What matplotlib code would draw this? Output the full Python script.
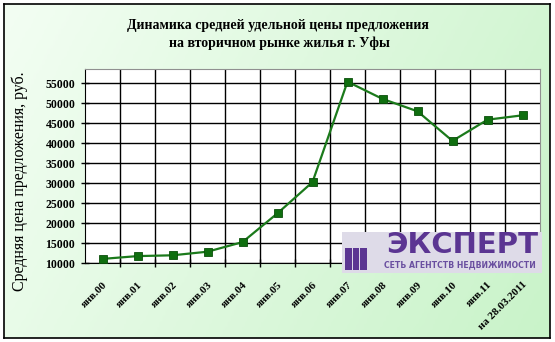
import numpy as np
import matplotlib
matplotlib.use('Agg')
import matplotlib.pyplot as plt
from matplotlib.patches import Rectangle
from matplotlib.colors import LinearSegmentedColormap

periods = ['янв.00', 'янв.01', 'янв.02', 'янв.03', 'янв.04', 'янв.05', 'янв.06',
           'янв.07', 'янв.08', 'янв.09', 'янв.10', 'янв.11', 'на 28.03.2011']
price = [11100, 11800, 12000, 12900, 15300, 22500, 30300,
         55400, 51100, 48000, 40600, 45900, 47000]
yticks = [10000, 15000, 20000, 25000, 30000, 35000, 40000, 45000, 50000, 55000]

plt.rcParams['font.family'] = ['Liberation Serif', 'DejaVu Serif']

W, H = 555, 342
fig = plt.figure(figsize=(W/100, H/100), dpi=100)

# background box with green gradient
bg = fig.add_axes([4/W, 1-338/H, 546/W, 334/H])
xx, yy = np.meshgrid(np.linspace(0, 1, 200), np.linspace(0, 1, 120))
grad = 0.75*xx + 0.25*yy
cmap = LinearSegmentedColormap.from_list('g', ['#f3fef3', '#c9f3c9'])
bg.imshow(grad, cmap=cmap, aspect='auto', extent=[0, 1, 0, 1], origin='upper')
bg.set_xticks([]); bg.set_yticks([])
for s in bg.spines.values():
    s.set_color('black'); s.set_linewidth(1.2)

ax = fig.add_axes([85/W, 1-263.3/H, 455/W, 194/H])
ax.set_facecolor('white')
x = np.arange(len(periods))
ax.plot(x, price, color='#1b7a1b', lw=1.6, marker='s', ms=5.5,
        mfc='#0f6e0f', mec='#0a4f0a', mew=0.6, zorder=3)

ax.set_xlim(-0.5, len(periods)-0.5)
ax.set_ylim(10000, 58500)
ax.set_yticks(yticks)
ax.set_yticklabels([str(v) for v in yticks], fontsize=8.5, fontweight='bold')
ax.set_xticks(x)
ax.set_xticklabels(periods, rotation=45, ha='right', va='top', rotation_mode='anchor',
                   fontsize=8, fontweight='bold')
ax.set_xticks(np.arange(0.5, len(periods)-0.5, 1), minor=True)
ax.tick_params(axis='x', which='major', length=0, pad=12)
ax.tick_params(axis='x', which='minor', direction='inout', length=6, width=1)
ax.tick_params(axis='y', direction='inout', length=6, width=1, pad=4)
ax.grid(True, axis='y', which='major', color='black', lw=1)
ax.grid(True, axis='x', which='minor', color='black', lw=1)
ax.spines['left'].set_color('black')
ax.spines['bottom'].set_color('black')
ax.spines['top'].set_color('#909090')
ax.spines['right'].set_color('#909090')

fig.text(278/W, 1-25/H, 'Динамика средней удельной цены предложения',
         ha='center', va='center', fontsize=10, fontweight='bold')
fig.text(279/W, 1-43/H, 'на вторичном рынке жилья г. Уфы',
         ha='center', va='center', fontsize=10, fontweight='bold')
fig.text(20/W, 1-181/H, 'Средняя цена предложения, руб.', rotation=90,
         ha='center', va='center', fontsize=11.5)

# logo
purple = '#5b3592'
fig.patches.append(Rectangle((342/W, 1-273/H), 200/W, 41/H, transform=fig.transFigure,
                             facecolor='#dedbe8', edgecolor='none', zorder=5))
for i in range(3):
    fig.patches.append(Rectangle(((345+7.5*i)/W, 1-270/H), 6.5/W, 22/H,
                                 transform=fig.transFigure, facecolor=purple,
                                 edgecolor='none', zorder=6))
fig.text(462/W, 1-245/H, 'ЭКСПЕРТ', ha='center', va='center', fontsize=21,
         fontweight='heavy', color=purple, family=['DejaVu Sans'], zorder=7)
fig.text(460/W, 1-265/H, 'СЕТЬ АГЕНТСТВ НЕДВИЖИМОСТИ', ha='center', va='center',
         fontsize=5.6, fontweight='bold', color='#6a4fa0', family=['DejaVu Sans'], zorder=7)

fig.savefig('out.png', dpi=100)
